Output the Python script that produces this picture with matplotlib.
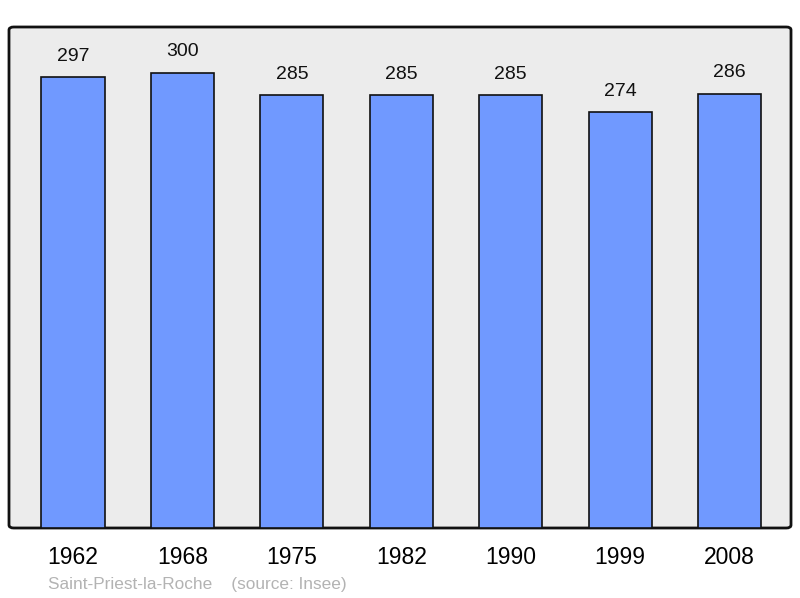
import matplotlib.pyplot as plt
from matplotlib.patches import FancyBboxPatch

years = ['1962', '1968', '1975', '1982', '1990', '1999', '2008']
population = [297, 300, 285, 285, 285, 274, 286]
caption = 'Saint-Priest-la-Roche    (source: Insee)'

plt.rcParams['font.family'] = ['Liberation Sans', 'DejaVu Sans']

fig = plt.figure(figsize=(8, 5.98), dpi=100)
ax = fig.add_axes([9 / 800, 70 / 598, 782 / 800, 501 / 598])
ax.set_facecolor('none')

# rounded frame behind the bars
frame = FancyBboxPatch((0, 0), 1, 1, transform=ax.transAxes,
                       boxstyle='round,pad=0,rounding_size=0.006',
                       facecolor='#ececec', edgecolor='#111111',
                       linewidth=2, zorder=0, clip_on=False)
ax.add_patch(frame)

x = range(len(years))
bars = ax.bar(x, population, width=0.576, color='#7099ff',
              edgecolor='#111111', linewidth=1.2, zorder=2)

for bar, v in zip(bars, population):
    ax.annotate(str(v), (bar.get_x() + bar.get_width() / 2, v),
                xytext=(0, 15), textcoords='offset points',
                ha='center', va='center', fontsize=14, color='#111111')

ax.set_xlim(-0.585, 6.562)
ax.set_ylim(0, 330)
ax.set_xticks(list(x))
ax.set_xticklabels(years, fontsize=16.5)
ax.tick_params(axis='x', length=0, pad=13)
ax.set_yticks([])
for s in ax.spines.values():
    s.set_visible(False)

fig.text(48 / 800, 1 - 584 / 598, caption, fontsize=12.4, color='#b3b3b3',
         ha='left', va='center')

fig.savefig('out.png', dpi=100)
